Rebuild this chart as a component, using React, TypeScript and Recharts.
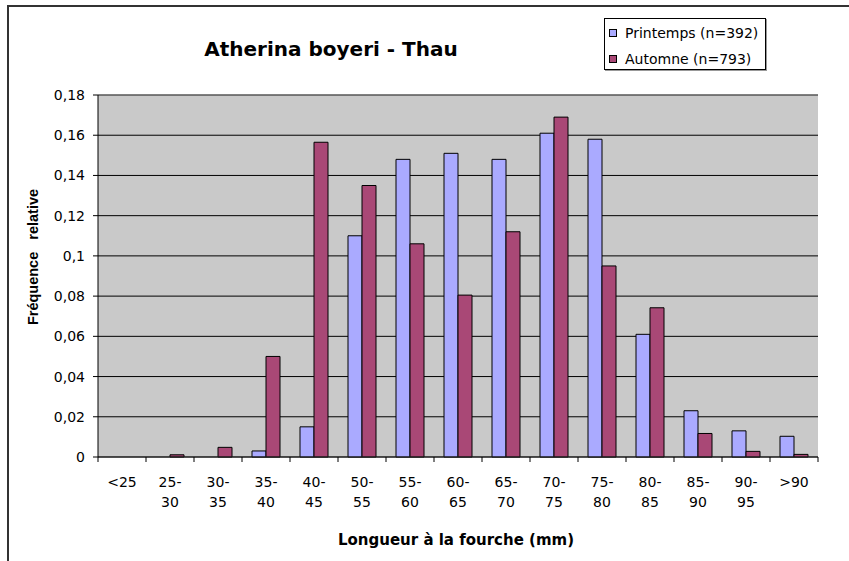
import {
  BarChart,
  Bar,
  XAxis,
  YAxis,
  CartesianGrid,
  Legend,
  ReferenceLine,
} from 'recharts';

const categories = ['<25', '25-30', '30-35', '35-40', '40-45', '50-55', '55-60', '60-65', '65-70', '70-75', '75-80', '80-85', '85-90', '90-95', '>90'];
const printemps = [0, 0, 0, 0.003, 0.015, 0.11, 0.148, 0.151, 0.148, 0.161, 0.158, 0.061, 0.023, 0.013, 0.0103];
const automne = [0, 0.0011, 0.0048, 0.05, 0.1565, 0.135, 0.106, 0.0805, 0.112, 0.169, 0.095, 0.0742, 0.0117, 0.0028, 0.0013];
const yTicks = [0, 0.02, 0.04, 0.06, 0.08, 0.1, 0.12, 0.14, 0.16, 0.18];
const seriesOrder = ['printemps', 'automne'];

const data = categories.map((name, i) => ({
  name,
  printemps: printemps[i],
  automne: automne[i],
}));

const W = 849;
const H = 561;
const PLOT_LEFT = 98;
const PLOT_RIGHT = 818;

const tickFont = { fontFamily: '"DejaVu Sans", Verdana, sans-serif', fontSize: 14, fill: '#000' };

function XTick(props: any) {
  const { x, y, payload, index, visibleTicksCount } = props;
  const half = payload?.offset ?? (PLOT_RIGHT - PLOT_LEFT) / categories.length / 2;
  const value: string = payload.value;
  const lines = /^\d+-\d+$/.test(value) ? [value.split('-')[0] + '-', value.split('-')[1]] : [value];
  return (
    <g>
      <line x1={x - half} x2={x - half} y1={y} y2={y + 5} stroke="#000" />
      {index === visibleTicksCount - 1 && (
        <line x1={x + half} x2={x + half} y1={y} y2={y + 5} stroke="#000" />
      )}
      {lines.map((t, i) => (
        <text key={i} x={x} y={y + 30 + i * 20} textAnchor="middle" {...tickFont}>
          {t}
        </text>
      ))}
    </g>
  );
}

function LegendBox(props: any) {
  const items = [...(props.payload || [])].sort(
    (a: any, b: any) => seriesOrder.indexOf(a.dataKey) - seriesOrder.indexOf(b.dataKey)
  );
  return (
    <div
      style={{
        width: 160,
        height: 49,
        border: '1px solid #000',
        background: '#fff',
        boxShadow: '1px 1px 0 #999',
        fontFamily: '"DejaVu Sans", Verdana, sans-serif',
        fontSize: 14,
        color: '#000',
        paddingTop: 1,
      }}
    >
      {items.map((it: any) => (
        <div key={it.value} style={{ display: 'flex', alignItems: 'center', height: 26, paddingLeft: 4 }}>
          <span
            style={{
              display: 'inline-block',
              width: 6,
              height: 6,
              background: it.color,
              border: '1px solid #000',
              marginRight: 8,
            }}
          />
          <span>{it.value}</span>
        </div>
      ))}
    </div>
  );
}

export default function App() {
  return (
    <div style={{ position: 'absolute', left: 0, top: 0, width: W, height: H, background: '#fff', overflow: 'hidden' }}>
      <div
        style={{
          position: 'absolute',
          left: 7,
          top: 5,
          width: W,
          height: H,
          borderLeft: '2px solid #333',
          borderTop: '2px solid #333',
        }}
      />
      <div
        style={{
          position: 'absolute',
          left: 331,
          top: 49,
          transform: 'translate(-50%, -50%)',
          whiteSpace: 'nowrap',
          fontFamily: '"DejaVu Sans", Verdana, sans-serif',
          fontWeight: 'bold',
          fontSize: 20,
          color: '#000',
        }}
      >
        Atherina boyeri - Thau
      </div>
      <div
        style={{
          position: 'absolute',
          left: 33,
          top: 257,
          transform: 'translate(-50%, -50%) rotate(-90deg)',
          whiteSpace: 'pre',
          fontFamily: '"Liberation Sans", Arial, sans-serif',
          fontWeight: 'bold',
          fontSize: 14.5,
          color: '#000',
        }}
      >
        {'Fréquence   relative'}
      </div>
      <div
        style={{
          position: 'absolute',
          left: 456,
          top: 540,
          transform: 'translate(-50%, -50%)',
          whiteSpace: 'nowrap',
          fontFamily: '"DejaVu Sans", Verdana, sans-serif',
          fontWeight: 'bold',
          fontSize: 15,
          color: '#000',
        }}
      >
        Longueur à la fourche (mm)
      </div>
      <BarChart
        width={W}
        height={H}
        data={data}
        margin={{ top: 95, right: W - PLOT_RIGHT, bottom: 0, left: 0 }}
        barCategoryGap={10}
        barGap={0}
      >
        <CartesianGrid vertical={false} stroke="#000" fill="#C9C9C9" fillOpacity={1} />
        <XAxis
          dataKey="name"
          height={104}
          interval={0}
          tickSize={0}
          tickMargin={0}
          tickLine={false}
          axisLine={{ stroke: '#222' }}
          tick={<XTick />}
        />
        <YAxis
          width={PLOT_LEFT}
          domain={[0, 0.18]}
          ticks={yTicks}
          interval={0}
          tickSize={5}
          tickMargin={8}
          axisLine={{ stroke: '#000' }}
          tickLine={{ stroke: '#000' }}
          tick={tickFont}
          tickFormatter={(v: number) => String(v).replace('.', ',')}
        />
        <YAxis
          yAxisId="r"
          orientation="right"
          width={0}
          domain={[0, 0.18]}
          tick={false}
          tickLine={false}
          axisLine={{ stroke: '#808080' }}
        />
        <ReferenceLine y={0.18} stroke="#808080" />
        <Legend
          layout="vertical"
          align="center"
          verticalAlign="middle"
          wrapperStyle={{ position: 'absolute', left: 604, top: 18, width: 'auto' }}
          content={<LegendBox />}
        />
        <Bar dataKey="printemps" name="Printemps (n=392)" fill="#AAAAFF" stroke="#000" strokeWidth={1} isAnimationActive={false} />
        <Bar dataKey="automne" name="Automne (n=793)" fill="#A94876" stroke="#000" strokeWidth={1} isAnimationActive={false} />
      </BarChart>
    </div>
  );
}
